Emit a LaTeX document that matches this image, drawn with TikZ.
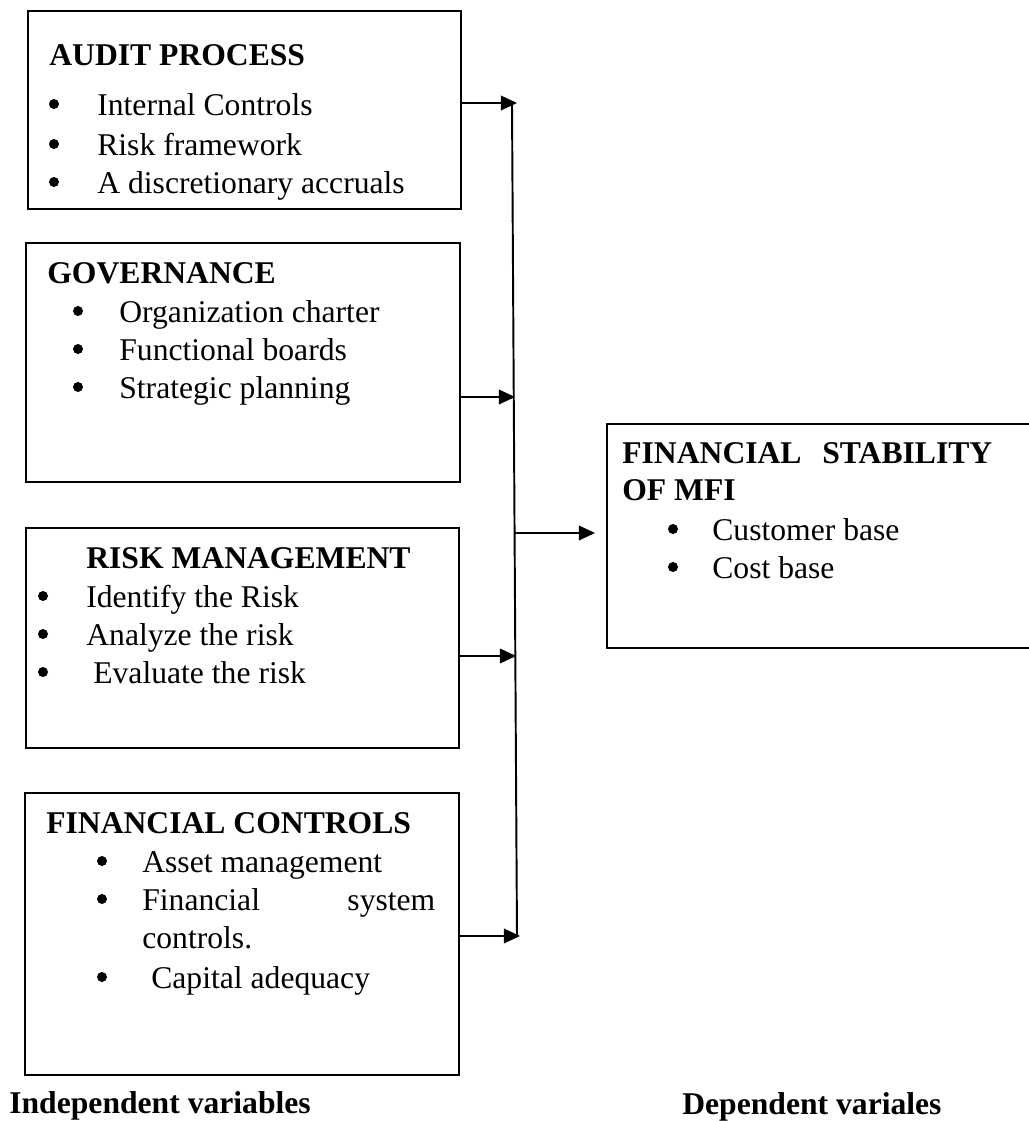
\documentclass[tikz,border=0pt]{standalone}
\usepackage{fontspec}
\setmainfont{Liberation Serif}
\usetikzlibrary{fit}
\begin{document}
\begin{tikzpicture}[scale=0.2]
\tikzstyle{every node}+=[inner sep=0pt, anchor=base west, font=\fontsize{18}{21}\selectfont]
\tikzstyle{box}=[draw, black, line width=1.1pt, anchor=center]
\tikzstyle{link}=[black, line width=1.4pt, shorten >=3pt]
\useasboundingbox (0,0) rectangle (102.9,-112.1);
% independent variables
\node (audit) [box, fit={(2.8,-1.1) (46.1,-20.9)}] {};
\node (auditH) at (4.9,-6.5) {\textbf{AUDIT PROCESS}};
\fill [black] (5.4,-10.4) circle (0.5);
\node (audit1) at (9.7,-11.5) {Internal Controls};
\fill [black] (5.4,-14.4) circle (0.5);
\node (audit2) at (9.7,-15.5) {Risk framework};
\fill [black] (5.4,-18.2) circle (0.5);
\node (audit3) at (9.7,-19.3) {A discretionary accruals};
\node (gov) [box, fit={(2.6,-24.3) (46.0,-48.2)}] {};
\node (govH) at (4.7,-28.3) {\textbf{GOVERNANCE}};
\fill [black] (7.8,-31.1) circle (0.5);
\node (gov1) at (11.9,-32.2) {Organization charter};
\fill [black] (7.8,-34.9) circle (0.5);
\node (gov2) at (11.9,-36.0) {Functional boards};
\fill [black] (7.8,-38.7) circle (0.5);
\node (gov3) at (11.9,-39.8) {Strategic planning};
\node (risk) [box, fit={(2.6,-52.8) (45.9,-74.8)}] {};
\node (riskH) at (8.6,-56.8) {\textbf{RISK MANAGEMENT}};
\fill [black] (4.3,-59.6) circle (0.5);
\node (risk1) at (8.6,-60.7) {Identify the Risk};
\fill [black] (4.3,-63.4) circle (0.5);
\node (risk2) at (8.6,-64.5) {Analyze the risk};
\fill [black] (4.3,-67.2) circle (0.5);
\node (risk3) at (9.3,-68.3) {Evaluate the risk};
\node (fin) [box, fit={(2.5,-79.3) (45.9,-107.5)}] {};
\node (finH) at (4.6,-83.3) {\textbf{FINANCIAL CONTROLS}};
\fill [black] (10.2,-86.1) circle (0.5);
\node (fin1) at (14.2,-87.2) {Asset management};
\fill [black] (10.2,-89.9) circle (0.5);
\node (fin2) at (14.2,-91.0) {\makebox[5.86cm][s]{Financial system}};
\node (fin3) at (14.2,-94.8) {controls.};
\fill [black] (10.2,-97.7) circle (0.5);
\node (fin4) at (15.1,-98.8) {Capital adequacy};
% dependent variable
\node (mfi) [box, fit={(60.7,-42.4) (103.3,-64.8)}] {};
\node (mfiH) at (62.2,-46.3) {\textbf{\makebox[7.4cm][s]{FINANCIAL STABILITY}}};
\node (mfiH2) at (62.2,-50.0) {\textbf{OF MFI}};
\fill [black] (67.3,-52.9) circle (0.5);
\node (mfi1) at (71.2,-54.0) {Customer base};
\fill [black] (67.3,-56.7) circle (0.5);
\node (mfi2) at (71.2,-57.8) {Cost base};
% connectors
\coordinate (busT) at (51.2,-10.3);
\coordinate (busB) at (51.7,-93.6);
\coordinate (a1) at (51.7,-10.3);
\coordinate (a2) at (51.5,-39.7);
\coordinate (a3) at (51.6,-65.6);
\coordinate (a4) at (52.0,-93.6);
\coordinate (o1) at (51.4,-53.3);
\coordinate (m1) at (59.5,-53.3);
\draw [black, line width=1.1pt] (busT) -- (busB);
\draw [link] (audit.east |- a1) -- (a1);
\fill [black] (a1) -- ++(-1.6,0.75) -- ++(0,-1.5) -- cycle;
\draw [link] (gov.east |- a2) -- (a2);
\fill [black] (a2) -- ++(-1.6,0.75) -- ++(0,-1.5) -- cycle;
\draw [link] (risk.east |- a3) -- (a3);
\fill [black] (a3) -- ++(-1.6,0.75) -- ++(0,-1.5) -- cycle;
\draw [link] (fin.east |- a4) -- (a4);
\fill [black] (a4) -- ++(-1.6,0.75) -- ++(0,-1.5) -- cycle;
\draw [link] (o1) -- (m1);
\fill [black] (m1) -- ++(-1.6,0.75) -- ++(0,-1.5) -- cycle;
% captions
\node (indep) at (0.9,-111.3) {\textbf{Independent variables}};
\node (dep) at (68.2,-111.4) {\textbf{Dependent variales}};
\end{tikzpicture}
\end{document}
